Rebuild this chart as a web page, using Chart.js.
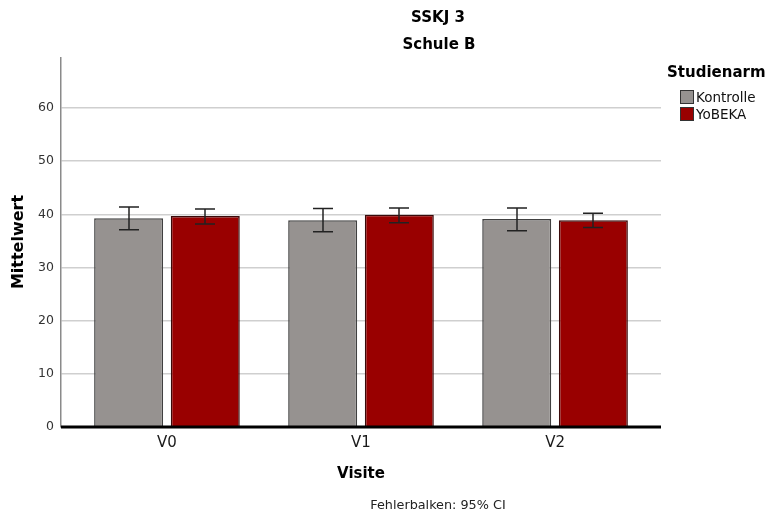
<!DOCTYPE html>
<html>
<head>
<meta charset="utf-8">
<script src="https://cdn.jsdelivr.net/npm/chart.js@4"></script>
<style>
  html, body { margin: 0; padding: 0; background: #fff; }
  #wrap { width: 768px; height: 515px; position: relative; }
</style>
</head>
<body>
<div id="wrap"><canvas id="sskjChart"></canvas></div>
<script>
const categories = ['V0', 'V1', 'V2'];
const seriesNames = ['Kontrolle', 'YoBEKA'];
const kontrolle = [39.25, 38.9, 39.1];
const yobeka = [39.7, 39.9, 38.9];
// 95% CI bounds
const kontrolleLow = [37.1, 36.7, 36.9];
const kontrolleHigh = [41.4, 41.1, 41.2];
const yobekaLow = [38.2, 38.4, 37.5];
const yobekaHigh = [41.0, 41.2, 40.2];
const yTicks = [0, 10, 20, 30, 40, 50, 60];

const FONT = 'DejaVu Sans';

const errorBars = {
  id: 'errorBars',
  afterDatasetsDraw(chart) {
    const { ctx, scales: { y } } = chart;
    const bounds = [[kontrolleLow, kontrolleHigh], [yobekaLow, yobekaHigh]];
    ctx.save();
    ctx.strokeStyle = '#222';
    ctx.lineWidth = 1.5;
    chart.data.datasets.forEach((ds, di) => {
      chart.getDatasetMeta(di).data.forEach((bar, i) => {
        const x = Math.round(bar.x);
        const yl = y.getPixelForValue(bounds[di][0][i]);
        const yh = y.getPixelForValue(bounds[di][1][i]);
        ctx.beginPath();
        ctx.moveTo(x, yl); ctx.lineTo(x, yh);
        ctx.moveTo(x - 10, yl); ctx.lineTo(x + 10, yl);
        ctx.moveTo(x - 10, yh); ctx.lineTo(x + 10, yh);
        ctx.stroke();
      });
    });
    ctx.restore();
  }
};

const decorations = {
  id: 'decorations',
  afterDraw(chart) {
    const { ctx, chartArea: a, scales: { y } } = chart;
    ctx.save();
    // baseline
    ctx.strokeStyle = '#000';
    ctx.lineWidth = 3;
    ctx.beginPath();
    const y0 = y.getPixelForValue(0);
    ctx.moveTo(a.left, y0); ctx.lineTo(a.right, y0);
    ctx.stroke();

    ctx.fillStyle = '#000';
    ctx.textAlign = 'center';
    ctx.textBaseline = 'middle';
    ctx.font = 'bold 15px ' + FONT;
    ctx.fillText('SSKJ 3', 438, 18);
    ctx.fillText('Schule B', 439, 45);

    ctx.font = 'bold 15px ' + FONT;
    ctx.fillText('Visite', 361, 474);
    ctx.save();
    ctx.translate(19, 242);
    ctx.rotate(-Math.PI / 2);
    ctx.font = 'bold 16px ' + FONT;
    ctx.fillText('Mittelwert', 0, 0);
    ctx.restore();

    ctx.font = '12.8px ' + FONT;
    ctx.fillStyle = '#222';
    ctx.fillText('Fehlerbalken: 95% CI', 438, 506);

    // legend
    ctx.textAlign = 'left';
    ctx.fillStyle = '#000';
    ctx.font = 'bold 15px ' + FONT;
    ctx.fillText('Studienarm', 667, 73);
    ctx.font = '13.5px ' + FONT;
    chart.data.datasets.forEach((ds, i) => {
      const ly = 97 + i * 17;
      ctx.fillStyle = ds.backgroundColor;
      ctx.fillRect(680, ly - 7, 14, 14);
      ctx.strokeStyle = '#333';
      ctx.lineWidth = 1;
      ctx.strokeRect(680.5, ly - 6.5, 13, 13);
      ctx.fillStyle = '#111';
      ctx.fillText(ds.label, 696, ly + 1);
    });
    ctx.restore();
  }
};

const toPoints = arr => arr.map((v, i) => ({ x: i, y: v }));

new Chart(document.getElementById('sskjChart'), {
  type: 'bar',
  data: {
    datasets: [
      {
        label: seriesNames[0],
        data: toPoints(kontrolle),
        backgroundColor: '#969290',
        borderColor: '#404040',
        borderWidth: 1.5,
        categoryPercentage: 0.79,
        barPercentage: 0.9
      },
      {
        label: seriesNames[1],
        data: toPoints(yobeka),
        backgroundColor: '#990000',
        borderColor: '#3a0a0a',
        borderWidth: 1.5,
        categoryPercentage: 0.79,
        barPercentage: 0.9
      }
    ]
  },
  options: {
    responsive: true,
    maintainAspectRatio: false,
    animation: false,
    layout: { padding: { top: 58, right: 107, left: 0, bottom: 0 } },
    scales: {
      x: {
        type: 'linear',
        min: -0.546,
        max: 2.546,
        offset: false,
        grid: { display: false, drawTicks: false },
        border: { display: false },
        afterFit: s => { s.height = 88; },
        afterBuildTicks: s => { s.ticks = categories.map((c, i) => ({ value: i })); },
        ticks: {
          padding: 7,
          color: '#1a1a1a',
          font: { family: FONT, size: 15 },
          callback: v => categories[v]
        }
      },
      y: {
        min: 0,
        max: 69.4,
        afterFit: s => { s.width = 61; },
        afterBuildTicks: s => { s.ticks = yTicks.map(v => ({ value: v })); },
        grid: {
          drawTicks: false,
          color: ctx => ctx.tick && ctx.tick.value === 0 ? 'rgba(0,0,0,0)' : '#cfcfcf',
          lineWidth: 1.5
        },
        border: { display: true, color: '#8a8a8a', width: 1.5 },
        ticks: {
          padding: 7,
          color: '#333',
          font: { family: FONT, size: 12.5 }
        }
      }
    },
    plugins: {
      legend: { display: false },
      tooltip: { enabled: false }
    }
  },
  plugins: [errorBars, decorations]
});
</script>
</body>
</html>
